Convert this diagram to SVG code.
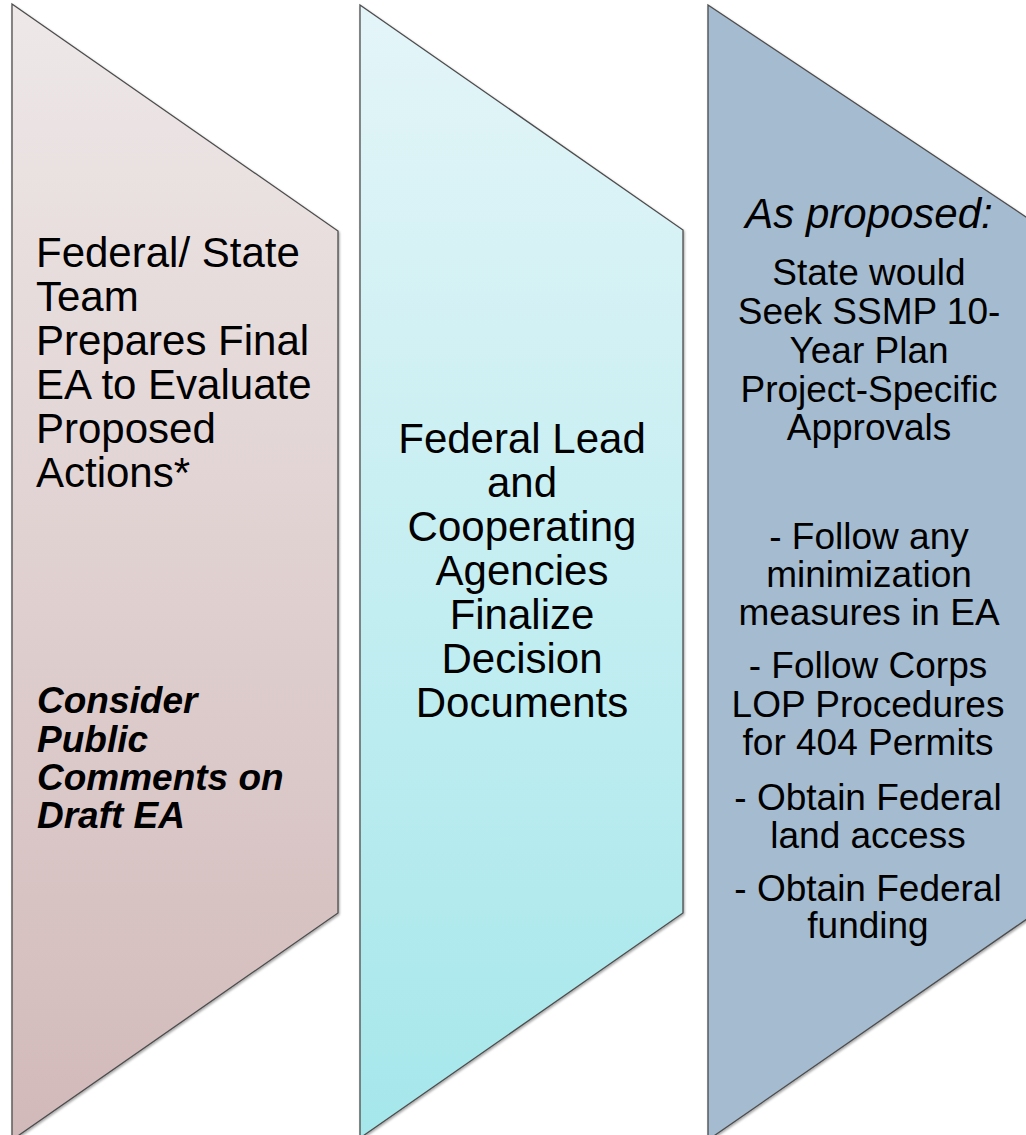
<svg xmlns="http://www.w3.org/2000/svg" width="1026" height="1135" viewBox="0 0 1026 1135">
  <defs>
    <linearGradient id="gRose" x1="0" y1="0" x2="0" y2="1">
      <stop offset="0" stop-color="#EEE8E8"/>
      <stop offset="1" stop-color="#D2B9B9"/>
    </linearGradient>
    <linearGradient id="gCyan" x1="0" y1="0" x2="0" y2="1">
      <stop offset="0" stop-color="#E4F5F8"/>
      <stop offset="1" stop-color="#A5E7EB"/>
    </linearGradient>
    <filter id="shadow" x="-5%" y="-5%" width="110%" height="110%">
      <feDropShadow dx="1" dy="1.5" stdDeviation="1.2" flood-color="#000" flood-opacity="0.35"/>
    </filter>
  </defs>
  <style>
    .shape { stroke: #4d4d4d; stroke-width: 1.3; filter: url(#shadow); }
    .t { font-family: "Liberation Sans", Arial, sans-serif; fill: #000; }
    .big { font-size: 42px; }
    .mid { font-size: 37px; }
    .bi { font-size: 37px; font-weight: bold; font-style: italic; }
    .it { font-style: italic; }
    .c { text-anchor: middle; }
  </style>
  <rect x="0" y="0" width="1026" height="1135" fill="#ffffff"/>

  <g id="node-final-ea">
    <polygon class="shape" fill="url(#gRose)" points="12,4 338,231 338,913 12,1140"/>
    <text class="t big"><tspan x="36" y="267">Federal/ State</tspan><tspan x="36" y="311">Team</tspan><tspan x="36" y="355">Prepares Final</tspan><tspan x="36" y="399">EA to Evaluate</tspan><tspan x="36" y="443">Proposed</tspan><tspan x="36" y="487">Actions*</tspan></text>
    <text class="t bi"><tspan x="37" y="713">Consider</tspan><tspan x="37" y="752">Public</tspan><tspan x="37" y="790">Comments on</tspan><tspan x="37" y="828">Draft EA</tspan></text>
  </g>

  <g id="node-decision-docs">
    <polygon class="shape" fill="url(#gCyan)" points="360,5 683,230 683,913 360,1138"/>
    <text class="t big c"><tspan x="522" y="453">Federal Lead</tspan><tspan x="522" y="497">and</tspan><tspan x="522" y="541">Cooperating</tspan><tspan x="522" y="585">Agencies</tspan><tspan x="522" y="629">Finalize</tspan><tspan x="522" y="673">Decision</tspan><tspan x="522" y="717">Documents</tspan></text>
  </g>

  <g id="node-approvals">
    <polygon class="shape" fill="#A4BBD0" points="708,5 1050,233 1050,903 708,1140"/>
    <text class="t big it c" x="869" y="228">As proposed:</text>
    <text class="t mid c"><tspan x="869" y="285">State would</tspan><tspan x="869" y="324">Seek SSMP 10-</tspan><tspan x="869" y="363">Year Plan</tspan><tspan x="869" y="402">Project-Specific</tspan><tspan x="869" y="440">Approvals</tspan></text>
    <text class="t mid c"><tspan x="869" y="549">- Follow any</tspan><tspan x="869" y="587">minimization</tspan><tspan x="869" y="625">measures in EA</tspan></text>
    <text class="t mid c"><tspan x="868" y="678">- Follow Corps</tspan><tspan x="868" y="717">LOP Procedures</tspan><tspan x="868" y="755">for 404 Permits</tspan></text>
    <text class="t mid c"><tspan x="868" y="810">- Obtain Federal</tspan><tspan x="868" y="848">land access</tspan></text>
    <text class="t mid c"><tspan x="868" y="901">- Obtain Federal</tspan><tspan x="868" y="938">funding</tspan></text>
  </g>
</svg>
